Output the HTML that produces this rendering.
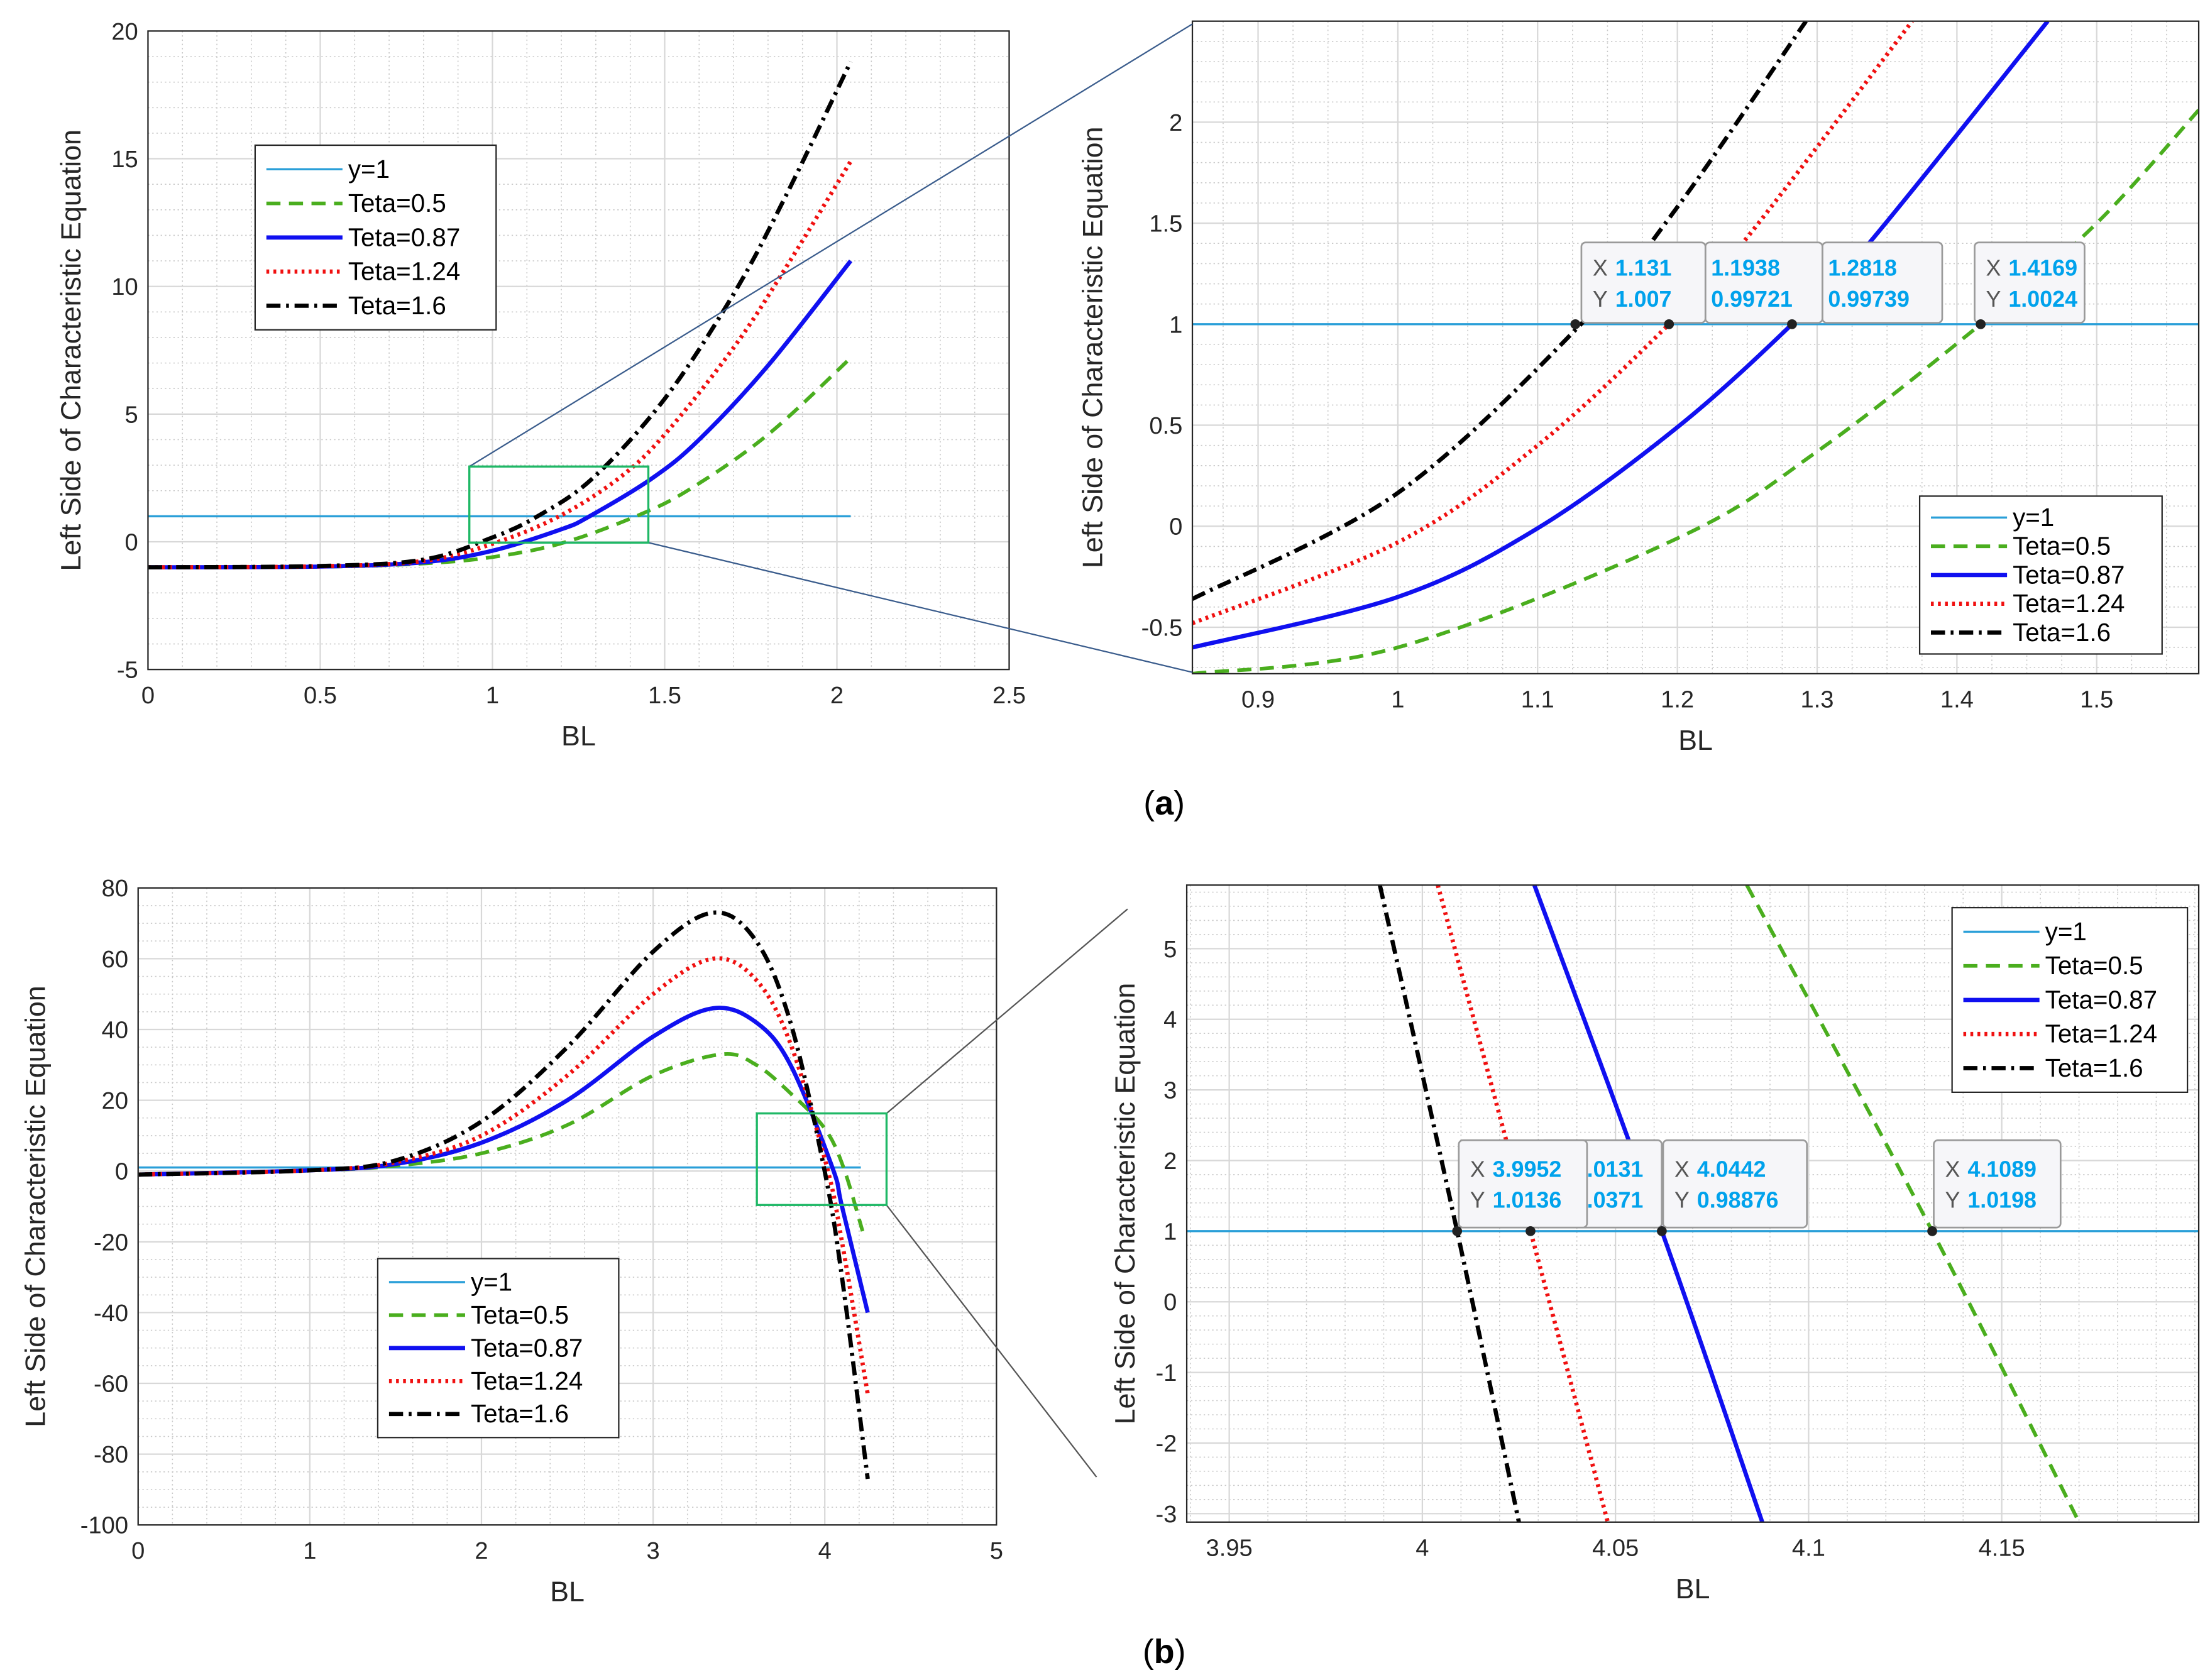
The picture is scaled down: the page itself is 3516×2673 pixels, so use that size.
<!DOCTYPE html>
<html><head><meta charset="utf-8">
<style>
html,body{margin:0;padding:0;background:#fff;}
svg{display:block;}
text{font-family:"Liberation Sans",sans-serif;}
</style></head>
<body>
<svg id="fig" width="3516" height="2673" viewBox="0 0 1568 1192" xmlns="http://www.w3.org/2000/svg"></svg>
<script>
// ---------- DATA ----------
const seriesNames = ["y=1","Teta=0.5","Teta=0.87","Teta=1.24","Teta=1.6"];
// Panel a-left
const aL_x_green = [0,0.5,0.8,1.0,1.2,1.417,1.573,1.8,2.04];
const aL_y_green = [-1,-0.98,-0.85,-0.6,-0.06,1,2.06,4.2,7.2];
const aL_x_blue = [0,0.5,0.8,1.0,1.2,1.282,1.465,1.6,1.8,2.04];
const aL_y_blue = [-1,-0.97,-0.8,-0.35,0.49,1,2.5,4.0,6.9,11];
const aL_x_red = [0,0.5,0.8,1.0,1.194,1.368,1.5,1.7,1.85,2.04];
const aL_y_red = [-1,-0.96,-0.75,-0.08,1,2.5,4.2,7.6,10.7,14.9];
const aL_x_black = [0,0.5,0.8,1.0,1.131,1.292,1.5,1.7,1.85,2.04];
const aL_y_black = [-1,-0.95,-0.7,0.17,1,2.5,5.6,9.7,13.5,18.8];
// Panel a-right (zoom)
const aR_x_green = [0.853,1.0,1.2,1.3,1.417,1.5,1.573];
const aR_y_green = [-0.73,-0.6,-0.06,0.37,1,1.5,2.06];
const aR_x_blue = [0.853,1.0,1.1,1.2,1.282,1.337,1.465];
const aR_y_blue = [-0.6,-0.35,-0.01,0.49,1,1.4,2.5];
const aR_x_red = [0.853,1.0,1.1,1.194,1.25,1.368];
const aR_y_red = [-0.48,-0.08,0.4,1,1.43,2.5];
const aR_x_black = [0.853,1.0,1.131,1.2,1.292];
const aR_y_black = [-0.36,0.165,1,1.58,2.5];
// Panel b-left
const bL_x_green = [0,1,1.5,2,2.5,3,3.4,3.6,3.8,4.0,4.109,4.22];
const bL_y_green = [-1,0.1,1.5,5,13,27,33,30,22,12,1,-17];
const bL_x_blue = [0,1,1.5,2,2.5,3,3.35,3.6,3.8,4.044,4.1,4.25];
const bL_y_blue = [-1,0.2,2,8,20,38,46,42,30,1,-10,-40];
const bL_x_red = [0,1,1.5,2,2.5,3,3.35,3.6,3.8,4.013,4.1,4.25];
const bL_y_red = [-1,0.2,2.5,10,27,50,60,54,36,1,-20,-63];
const bL_x_black = [0,1,1.5,2,2.5,3,3.35,3.6,3.8,3.995,4.1,4.25];
const bL_y_black = [-1,0.2,3,14,35,62,73,65,42,1,-30,-87];
// Panel b-right (zoom)
const bR_x_green = [4.084,4.132,4.170];
const bR_y_green = [5.9,1,-3.12];
const bR_x_blue = [4.029,4.062,4.088];
const bR_y_blue = [5.9,1,-3.12];
const bR_x_red = [4.004,4.028,4.048];
const bR_y_red = [5.9,1,-3.12];
const bR_x_black = [3.989,4.009,4.025];
const bR_y_black = [5.9,1,-3.12];
// Datatips
const aTipX = [1.127,1.194,1.282,1.417];
const aTipY = [1,1,1,1];
const aTipLabels = [["1.131","1.007"],["1.1938","0.99721"],["1.2818","0.99739"],["1.4169","1.0024"]];
const bTipX = [4.009,4.028,4.062,4.132];
const bTipY = [1,1,1,1];
const bTipLabels = [["3.9952","1.0136"],["4.0131","1.0371"],["4.0442","0.98876"],["4.1089","1.0198"]];
// Ticks
const aL_xticks=[0,0.5,1,1.5,2,2.5], aL_yticks=[-5,0,5,10,15,20];
const aR_xticks=[0.9,1,1.1,1.2,1.3,1.4,1.5], aR_yticks=[-0.5,0,0.5,1,1.5,2];
const bL_xticks=[0,1,2,3,4,5], bL_yticks=[-100,-80,-60,-40,-20,0,20,40,60,80];
const bR_xticks=[3.95,4,4.05,4.1,4.15], bR_yticks=[-3,-2,-1,0,1,2,3,4,5];

// ---------- DRAW ----------
const NS="http://www.w3.org/2000/svg";
const svg=document.getElementById('fig');
function el(tag,attrs,parent){const e=document.createElementNS(NS,tag);for(const k in attrs)e.setAttribute(k,attrs[k]);(parent||svg).appendChild(e);return e;}
const styles={
 y1:{stroke:"#2a9fd8",w:1.5,dash:""},
 green:{stroke:"#4aae1e",w:2.6,dash:"10,6"},
 blue:{stroke:"#1010f0",w:3,dash:""},
 red:{stroke:"#f01010",w:3,dash:"2,3"},
 black:{stroke:"#000",w:3,dash:"10,4,2,4"}
};
function pathFrom(px){
 let d="M"+px[0][0]+","+px[0][1];
 for(let i=0;i<px.length-1;i++){
  const p0=px[i-1]||px[i],p1=px[i],p2=px[i+1],p3=px[i+2]||p2;
  const c1=[p1[0]+(p2[0]-p0[0])/6,p1[1]+(p2[1]-p0[1])/6];
  const c2=[p2[0]-(p3[0]-p1[0])/6,p2[1]-(p3[1]-p1[1])/6];
  d+=" C"+c1+" "+c2+" "+p2;
 }
 return d;
}
let clipId=0;
function panel(cfg){
 const g=el('g',{});
 
 
 const {L,R,T,B,x0,x1,y0,y1}=cfg;
 const sx=v=>L+(v-x0)/(x1-x0)*(R-L);
 const sy=v=>B-(v-y0)/(y1-y0)*(B-T);
 cfg.sx=sx;cfg.sy=sy;
 el('rect',{x:L,y:T,width:R-L,height:B-T,fill:"#fff"},g);
 const mg=el('g',{stroke:"#c8c8c8","stroke-width":0.7,"stroke-dasharray":"1,2"},g);
 
 const dx=(cfg.xt[1]-cfg.xt[0])/cfg.mx, dy=(cfg.yt[1]-cfg.yt[0])/cfg.my;
 for(let v=cfg.xt[0]-dx*20;v<=x1;v+=dx){if(v>x0&&v<x1)el('line',{x1:sx(v),x2:sx(v),y1:T,y2:B},mg);}
 for(let v=cfg.yt[0]-dy*20;v<=y1;v+=dy){if(v>y0&&v<y1)el('line',{x1:L,x2:R,y1:sy(v),y2:sy(v)},mg);}
 const Mg=el('g',{stroke:"#d8d8d8","stroke-width":1},g);
 
 cfg.xt.forEach(v=>el('line',{x1:sx(v),x2:sx(v),y1:T,y2:B},Mg));
 cfg.yt.forEach(v=>el('line',{x1:L,x2:R,y1:sy(v),y2:sy(v)},Mg));
 const cid="c"+(clipId++);
 const cp=el('clipPath',{id:cid},g);el('rect',{x:L,y:T,width:R-L,height:B-T},cp);
 const sg=el('g',{"clip-path":"url(#"+cid+")"},g);
 const yl=el('line',{x1:sx(cfg.y1from),x2:sx(cfg.y1to),y1:sy(1),y2:sy(1),stroke:styles.y1.stroke,"stroke-width":styles.y1.w},sg);
 
 cfg.series.forEach(s=>{
  const st=styles[s.k];
  const px=s.x.map((v,i)=>[sx(v),sy(s.y[i])]);
  const p=el('path',{d:pathFrom(px),fill:"none",stroke:st.stroke,"stroke-width":st.w,"stroke-dasharray":st.dash},sg);
  
 });
 el('rect',{x:L,y:T,width:R-L,height:B-T,fill:"none",stroke:"#262626","stroke-width":1},g);
 const tk=el('g',{fill:"#262626","font-size":17},g);
 cfg.xt.forEach(v=>{const t=el('text',{x:sx(v),y:B+24,"text-anchor":"middle"},tk);t.textContent=String(v);
  });
 cfg.yt.forEach(v=>{const t=el('text',{x:L-7,y:sy(v)+6,"text-anchor":"end"},tk);t.textContent=String(v);
  });
 const xl=el('text',{x:(L+R)/2+cfg.xlo,y:B+54,"text-anchor":"middle","font-size":20,fill:"#262626"},g);xl.textContent="BL";
 
 const yx=cfg.ylx, yy=(T+B)/2;
 const ylab=el('text',{x:yx,y:yy,"text-anchor":"middle","font-size":20,fill:"#262626",transform:"rotate(-90 "+yx+" "+yy+")"},g);
 ylab.textContent="Left Side of Characteristic Equation";
 
 return cfg;
}
function legend(x,y,w,h){
 const g=el('g',{});
 
 el('rect',{x:x,y:y,width:w,height:h,fill:"#fff",stroke:"#262626","stroke-width":1},g);
 const keys=["y1","green","blue","red","black"];
 const step=(h-10)/5;
 keys.forEach((k,i)=>{
  const cy=y+5+step*(i+0.5), st=styles[k];
  const e=el('g',{},g);
  
  el('line',{x1:x+8,x2:x+62,y1:cy,y2:cy,stroke:st.stroke,"stroke-width":st.w,"stroke-dasharray":st.dash},e);
  const t=el('text',{x:x+66,y:cy+6,"font-size":18,fill:"#000"},e);t.textContent=seriesNames[i];
 });
}
function tips(cfg,xs,ys,labels,boxes){
 for(let i=boxes.length-1;i>=0;i--){
  const b=boxes[i];
  const g=el('g',{});
  
  el('rect',{x:b[0],y:b[1],width:b[2],height:b[3],fill:"#f6f6f9",stroke:"#9a9a9a","stroke-width":1.2,rx:3},g);
  const r1=b[1]+b[3]/2-5, r2=b[1]+b[3]/2+17;
  if(b[4]){const t1=el('text',{x:b[0]+8,y:r1,"font-size":16,fill:"#555"},g);t1.textContent="X";
   const t2=el('text',{x:b[0]+8,y:r2,"font-size":16,fill:"#555"},g);t2.textContent="Y";}
  const ox=b[4]?b[0]+24:b[0]+4;
  const v1=el('text',{x:ox,y:r1,"font-size":16,"font-weight":"bold",fill:"#00a2ec"},g);v1.textContent=labels[i][0];
  const v2=el('text',{x:ox,y:r2,"font-size":16,"font-weight":"bold",fill:"#00a2ec"},g);v2.textContent=labels[i][1];
 }
 xs.forEach((v,i)=>{const c=el('circle',{cx:cfg.sx(v),cy:cfg.sy(ys[i]),r:3.5,fill:"#222"});
  });
}
const S=(k,x,y)=>({k:k,x:x,y:y});
const aL=panel({name:"plot-a-left",L:105,R:716,T:22,B:475,x0:0,x1:2.5,y0:-5,y1:20,xt:aL_xticks,yt:aL_yticks,mx:5,my:5,y1from:0,y1to:2.04,xlo:0,ylx:57,
 series:[S("green",aL_x_green,aL_y_green),S("blue",aL_x_blue,aL_y_blue),S("red",aL_x_red,aL_y_red),S("black",aL_x_black,aL_y_black)]});
const aR=panel({name:"plot-a-right-zoom",L:846,R:1560,T:15,B:478,x0:0.853,x1:1.573,y0:-0.73,y1:2.5,xt:aR_xticks,yt:aR_yticks,mx:4,my:5,y1from:0.85,y1to:1.58,xlo:0,ylx:782,
 series:[S("green",aR_x_green,aR_y_green),S("blue",aR_x_blue,aR_y_blue),S("red",aR_x_red,aR_y_red),S("black",aR_x_black,aR_y_black)]});
const bL=panel({name:"plot-b-left",L:98,R:707,T:630,B:1082,x0:0,x1:5,y0:-100,y1:80,xt:bL_xticks,yt:bL_yticks,mx:5,my:4,y1from:0,y1to:4.21,xlo:0,ylx:32,
 series:[S("green",bL_x_green,bL_y_green),S("blue",bL_x_blue,bL_y_blue),S("red",bL_x_red,bL_y_red),S("black",bL_x_black,bL_y_black)]});
const bR=panel({name:"plot-b-right-zoom",L:842,R:1560,T:628,B:1080,x0:3.939,x1:4.201,y0:-3.12,y1:5.9,xt:bR_xticks,yt:bR_yticks,mx:5,my:5,y1from:3.9,y1to:4.3,xlo:0,ylx:805,
 series:[S("green",bR_x_green,bR_y_green),S("blue",bR_x_blue,bR_y_blue),S("red",bR_x_red,bR_y_red),S("black",bR_x_black,bR_y_black)]});
function zoomBox(x,y,w,h,lines,col,name){
 const g=el('g',{});
 lines.forEach(l=>el('line',{x1:l[0],y1:l[1],x2:l[2],y2:l[3],stroke:col,"stroke-width":1},g));
 el('rect',{x:x,y:y,width:w,height:h,fill:"none",stroke:"#1fb866","stroke-width":1.5},g);
}
zoomBox(333,331,127,54,[[333,331,846,17],[460,385,846,477]],"#3a5c8c","zoom-box-a");
zoomBox(537,790,92,65,[[629,790,800,645],[629,855,778,1048]],"#555","zoom-box-b");
legend(181,103,171,131);
legend(1362,352,172,112);
legend(268,893,171,127);
legend(1385,644,167,131);
tips(aR,aTipX,aTipY,aTipLabels,[[1122,172,88,57,true],[1210,172,83,57,false],[1293,172,85,57,false],[1401,172,78,57,true]]);
tips(bR,bTipX,bTipY,bTipLabels,[[1035,809,91,62,true],[1093,809,86,62,true],[1180,809,102,62,true],[1372,809,90,62,true]]);
const la=el('text',{x:826,y:578,"text-anchor":"middle","font-size":24,"font-family":"Liberation Serif,serif"});
la.innerHTML='(<tspan font-weight="bold">a</tspan>)';

const lb=el('text',{x:826,y:1180,"text-anchor":"middle","font-size":24,"font-family":"Liberation Serif,serif"});
lb.innerHTML='(<tspan font-weight="bold">b</tspan>)';

</script>
</body></html>
